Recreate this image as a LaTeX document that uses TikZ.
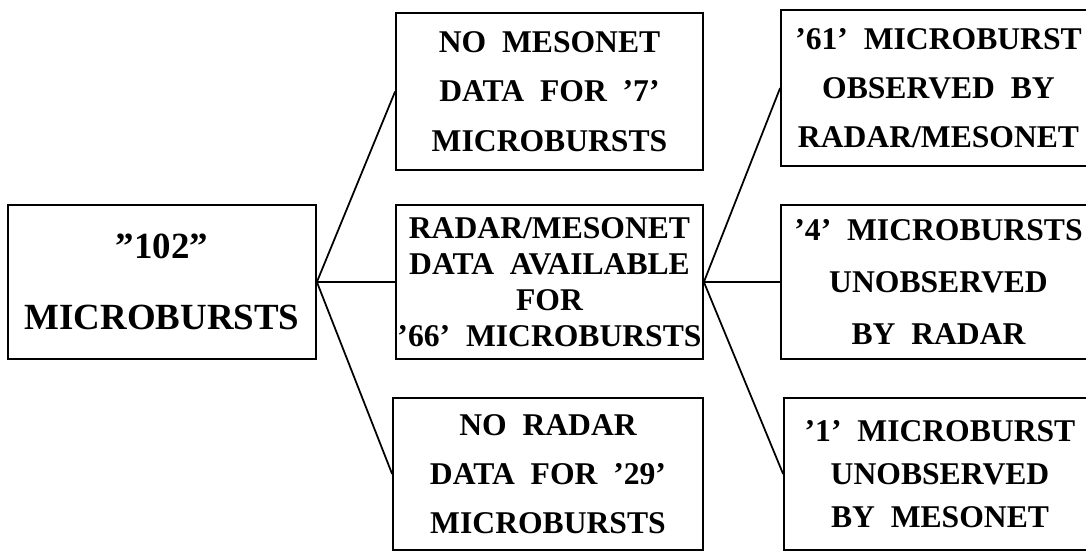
\documentclass[tikz,border=0pt]{standalone}
\usepackage{fontspec}
\setmainfont{Liberation Serif}
\usepackage{tikz}

\begin{document}
\begin{tikzpicture}[
  box/.style={draw, line width=1pt, align=center, inner sep=0pt,
    font=\bfseries\fontsize{18}{28}\selectfont},
  link/.style={line width=1pt}]

\useasboundingbox (0,0) rectangle (21.72,-11.02);

\node[box, minimum width=6.16cm, minimum height=3.08cm,
  font=\bfseries\fontsize{21}{40}\selectfont] (root) at (3.24,-5.64) {”102”\\MICROBURSTS};

\node[box, minimum width=6.14cm, minimum height=3.14cm] (nomeso) at (10.99,-1.83) {NO\ \ MESONET\\DATA\ \ FOR\ \ ’7’\\MICROBURSTS};

\node[box, minimum width=6.14cm, minimum height=3.08cm,
  font=\bfseries\fontsize{18}{20.5}\selectfont] (both) at (10.99,-5.64) {RADAR/MESONET\\DATA\ \ AVAILABLE\\FOR\\’66’\ \ MICROBURSTS};

\node[box, minimum width=6.2cm, minimum height=3.04cm] (norad) at (10.96,-9.48) {NO\ \ RADAR\\DATA\ \ FOR\ \ ’29’\\MICROBURSTS};

% right column runs past the page edge
\node[box, minimum width=6.3cm, minimum height=3.12cm] (seen) at (18.77,-1.76) {’61’\ \ MICROBURST\\OBSERVED\ \ BY\\RADAR/MESONET};

\node[box, minimum width=6.3cm, minimum height=3.08cm,
  font=\bfseries\fontsize{18}{29.5}\selectfont] (unrad) at (18.77,-5.64) {’4’\ \ MICROBURSTS\\UNOBSERVED\\BY\ \ RADAR};

\node[box, minimum width=6.24cm, minimum height=3.04cm,
  font=\bfseries\fontsize{18}{24.5}\selectfont] (unmeso) at (18.8,-9.48) {’1’\ \ MICROBURST\\UNOBSERVED\\BY\ \ MESONET};

\draw[link] (root.east) -- (nomeso.west);
\draw[link] (root.east) -- (both.west);
\draw[link] (root.east) -- (norad.west);

\draw[link] (both.east) -- (seen.west);
\draw[link] (both.east) -- (unrad.west);
\draw[link] (both.east) -- (unmeso.west);

\end{tikzpicture}
\end{document}
